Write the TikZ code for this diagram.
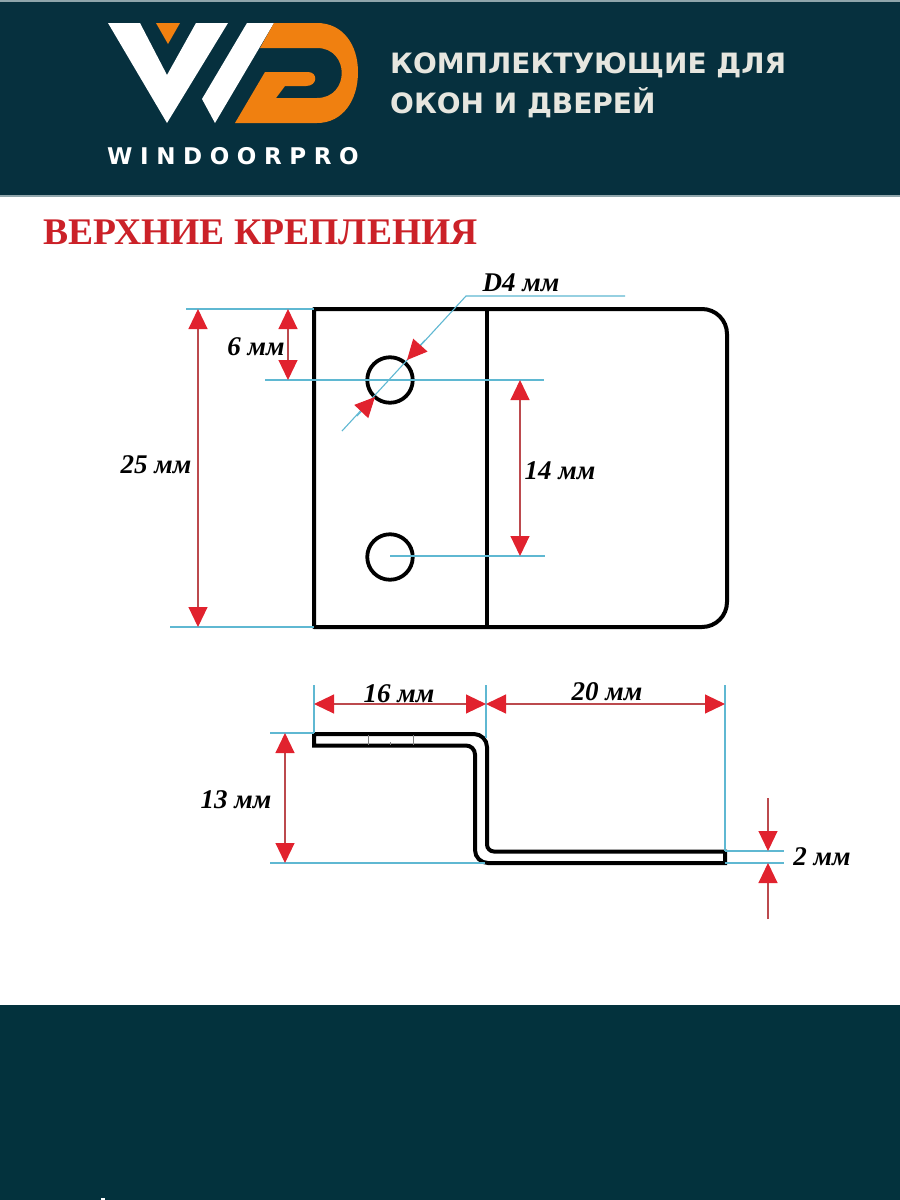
\documentclass[tikz,border=0pt]{standalone}
\usepackage{fontspec}
\setmainfont{Liberation Serif}
\newfontfamily\headfont{DejaVu Sans}
\newfontfamily\brandfont[LetterSpace=33]{DejaVu Sans}
\usetikzlibrary{arrows.meta}
\definecolor{headbg}{HTML}{06303E}
\definecolor{footbg}{HTML}{03323D}
\definecolor{edgegray}{HTML}{8FA5AB}
\definecolor{logoorange}{HTML}{F08010}
\definecolor{dimcyan}{HTML}{5FB8D2}
\definecolor{dimred}{HTML}{E1222E}
\definecolor{dimline}{HTML}{BC4A4E}
\definecolor{headtext}{HTML}{E6E6DF}
\definecolor{titlered}{HTML}{CB2128}
\tikzset{
  part/.style={draw=black,line width=4pt,line join=round},
  partthin/.style={draw=black,line width=4pt},
  ext/.style={draw=dimcyan,line width=1.1pt},
  extb/.style={draw=dimcyan,line width=2pt},
  dim/.style={draw=dimline,line width=1.1pt,{Triangle[length=20pt,width=19pt,color=dimred]}-{Triangle[length=20pt,width=19pt,color=dimred]}},
  dimend/.style={draw=dimline,line width=1.1pt,-{Triangle[length=20pt,width=19pt,color=dimred]}},
  dimtxt/.style={font=\fontsize{27}{30}\selectfont\bfseries\itshape,text=black,inner sep=0pt},
  headtxt/.style={font=\headfont\fontsize{28}{34}\selectfont\bfseries,text=headtext,inner sep=0pt,anchor=base west},
}
\begin{document}
\begin{tikzpicture}[x=1pt,y=-1pt]
\useasboundingbox (0,0) rectangle (900,1200);
\fill[white] (0,0) rectangle (900,1200);
% bands
\fill[edgegray] (0,0) rectangle (900,197);
\fill[headbg] (0,2) rectangle (900,195);
\fill[footbg] (0,1005) rectangle (900,1200);
\fill[white] (101,1198) rectangle (105,1200);
% logo
\fill[white] (108,23) -- (140,23) -- (167,75) -- (196,23) -- (228,23) -- (167,123) -- cycle;
\fill[white] (247,23) -- (274,23) -- (215,123) -- (202,99) -- cycle;
\fill[logoorange] (156,23) -- (180,23) -- (168,44) -- cycle;
\fill[logoorange] (274,23) -- (317,23) .. controls (343,23) and (358,45) .. (358,72)
  .. controls (358,100) and (343,123) .. (317,123) -- (235,123) -- (265,72) -- (308,72)
  .. controls (318,72) and (318,86) .. (306,86) -- (285,86) -- (276,98) -- (317,98)
  .. controls (350,98) and (350,48) .. (317,48) -- (260,48) -- cycle;
\node[font=\brandfont\fontsize{23}{26}\selectfont\bfseries,text=white,inner sep=0pt,anchor=base west] (brand) at (107,164) {WINDOORPRO};
\node[headtxt] (head1) at (390,73) {КОМПЛЕКТУЮЩИЕ ДЛЯ};
\node[headtxt] (head2) at (390,113) {ОКОН И ДВЕРЕЙ};
\node[font=\fontsize{37.6}{40}\selectfont\bfseries,text=titlered,inner sep=0pt,anchor=base west] (title) at (43,244) {ВЕРХНИЕ КРЕПЛЕНИЯ};
% plate
\draw[part] (314,309) -- (702,309) arc[start angle=-90,end angle=0,radius=25] -- (727,602)
  arc[start angle=0,end angle=90,radius=25] -- (314,627) -- cycle;
\draw[partthin] (487,309) -- (487,627);
\node[draw=black,line width=3.8pt,circle,minimum size=45.5pt,inner sep=0pt] (holeA) at (390,380) {};
\node[draw=black,line width=3.8pt,circle,minimum size=45.5pt,inner sep=0pt] (holeB) at (390,557) {};
% plate extension lines
\coordinate (t0) at (186,309); \coordinate (t1) at (314,309);
\coordinate (b0) at (170,627); \coordinate (b1) at (314,627);
\coordinate (c0) at (265,380); \coordinate (c1) at (544,380);
\coordinate (d0) at (390,556); \coordinate (d1) at (545,556);
\draw[ext] (t0) -- (t1);
\draw[ext] (b0) -- (b1);
\draw[ext] (c0) -- (c1);
\draw[ext] (d0) -- (d1);
\coordinate (la) at (342,431); \coordinate (lb) at (466,296); \coordinate (lc) at (625,296);
\draw[ext] (la) -- (lb) -- (lc);
% plate dimensions
\coordinate (p25a) at (198,309); \coordinate (p25b) at (198,627);
\coordinate (p6a) at (288,309); \coordinate (p6b) at (288,380);
\coordinate (p14a) at (520,380); \coordinate (p14b) at (520,556);
\draw[dim] (p25a) -- (p25b);
\draw[dim] (p6a) -- (p6b);
\draw[dim] (p14a) -- (p14b);
\coordinate (dtip1) at (407,360); \coordinate (dbase1) at (425,340);
\coordinate (dtip2) at (375,397); \coordinate (dbase2) at (357,416);
\draw[dimend,draw=dimcyan] (dbase1) -- (dtip1);
\draw[dimend,draw=dimcyan] (dbase2) -- (dtip2);
% side profile
\draw[part,line join=miter] (725,851.5) -- (494,851.5) arc[start angle=90,end angle=180,radius=7] -- (487,747)
  arc[start angle=0,end angle=-90,radius=13] -- (314,734) -- (314,745.5) -- (466,745.5)
  arc[start angle=-90,end angle=0,radius=9] -- (475,850) arc[start angle=180,end angle=90,radius=13] -- (725,863) -- cycle;
\coordinate (k1a) at (368,735); \coordinate (k1b) at (368,745);
\coordinate (k2a) at (390,742); \coordinate (k2b) at (390,745);
\coordinate (k3a) at (413,735); \coordinate (k3b) at (413,745);
\draw[gray,line width=.8pt] (k1a) -- (k1b) (k2a) -- (k2b) (k3a) -- (k3b);
% side extension lines
\coordinate (e1a) at (314,685); \coordinate (e1b) at (314,733);
\coordinate (e2a) at (486,685); \coordinate (e2b) at (486,738);
\coordinate (e3a) at (725,685); \coordinate (e3b) at (725,851);
\coordinate (e4a) at (270,733); \coordinate (e4b) at (314,733);
\coordinate (e5a) at (270,863); \coordinate (e5b) at (485,863);
\coordinate (e6a) at (725,851); \coordinate (e6b) at (784,851);
\coordinate (e7a) at (725,863); \coordinate (e7b) at (784,863);
\draw[ext] (e1a) -- (e1b);
\draw[ext] (e2a) -- (e2b);
\draw[ext] (e3a) -- (e3b);
\draw[ext] (e4a) -- (e4b);
\draw[extb] (e5a) -- (e5b);
\draw[extb] (e6a) -- (e6b);
\draw[extb] (e7a) -- (e7b);
% side dimensions
\coordinate (s16a) at (314,704); \coordinate (s16b) at (486,704); \coordinate (s20b) at (725,704);
\coordinate (s13a) at (285,733); \coordinate (s13b) at (285,863);
\coordinate (s2a) at (768,798); \coordinate (s2b) at (768,851);
\coordinate (s2c) at (768,919); \coordinate (s2d) at (768,863);
\draw[dim] (s16a) -- (s16b);
\draw[dim] (s16b) -- (s20b);
\draw[dim] (s13a) -- (s13b);
\draw[dimend] (s2a) -- (s2b);
\draw[dimend] (s2c) -- (s2d);
% labels
\node[dimtxt] (lD) at (521,283) {D4 мм};
\node[dimtxt] (l6) at (256,347) {6 мм};
\node[dimtxt] (l25) at (156,465) {25 мм};
\node[dimtxt] (l14) at (560,471) {14 мм};
\node[dimtxt] (l16) at (399,694) {16 мм};
\node[dimtxt] (l20) at (607,692) {20 мм};
\node[dimtxt] (l13) at (236,800) {13 мм};
\node[dimtxt] (l2) at (822,857) {2 мм};
\end{tikzpicture}
\end{document}
